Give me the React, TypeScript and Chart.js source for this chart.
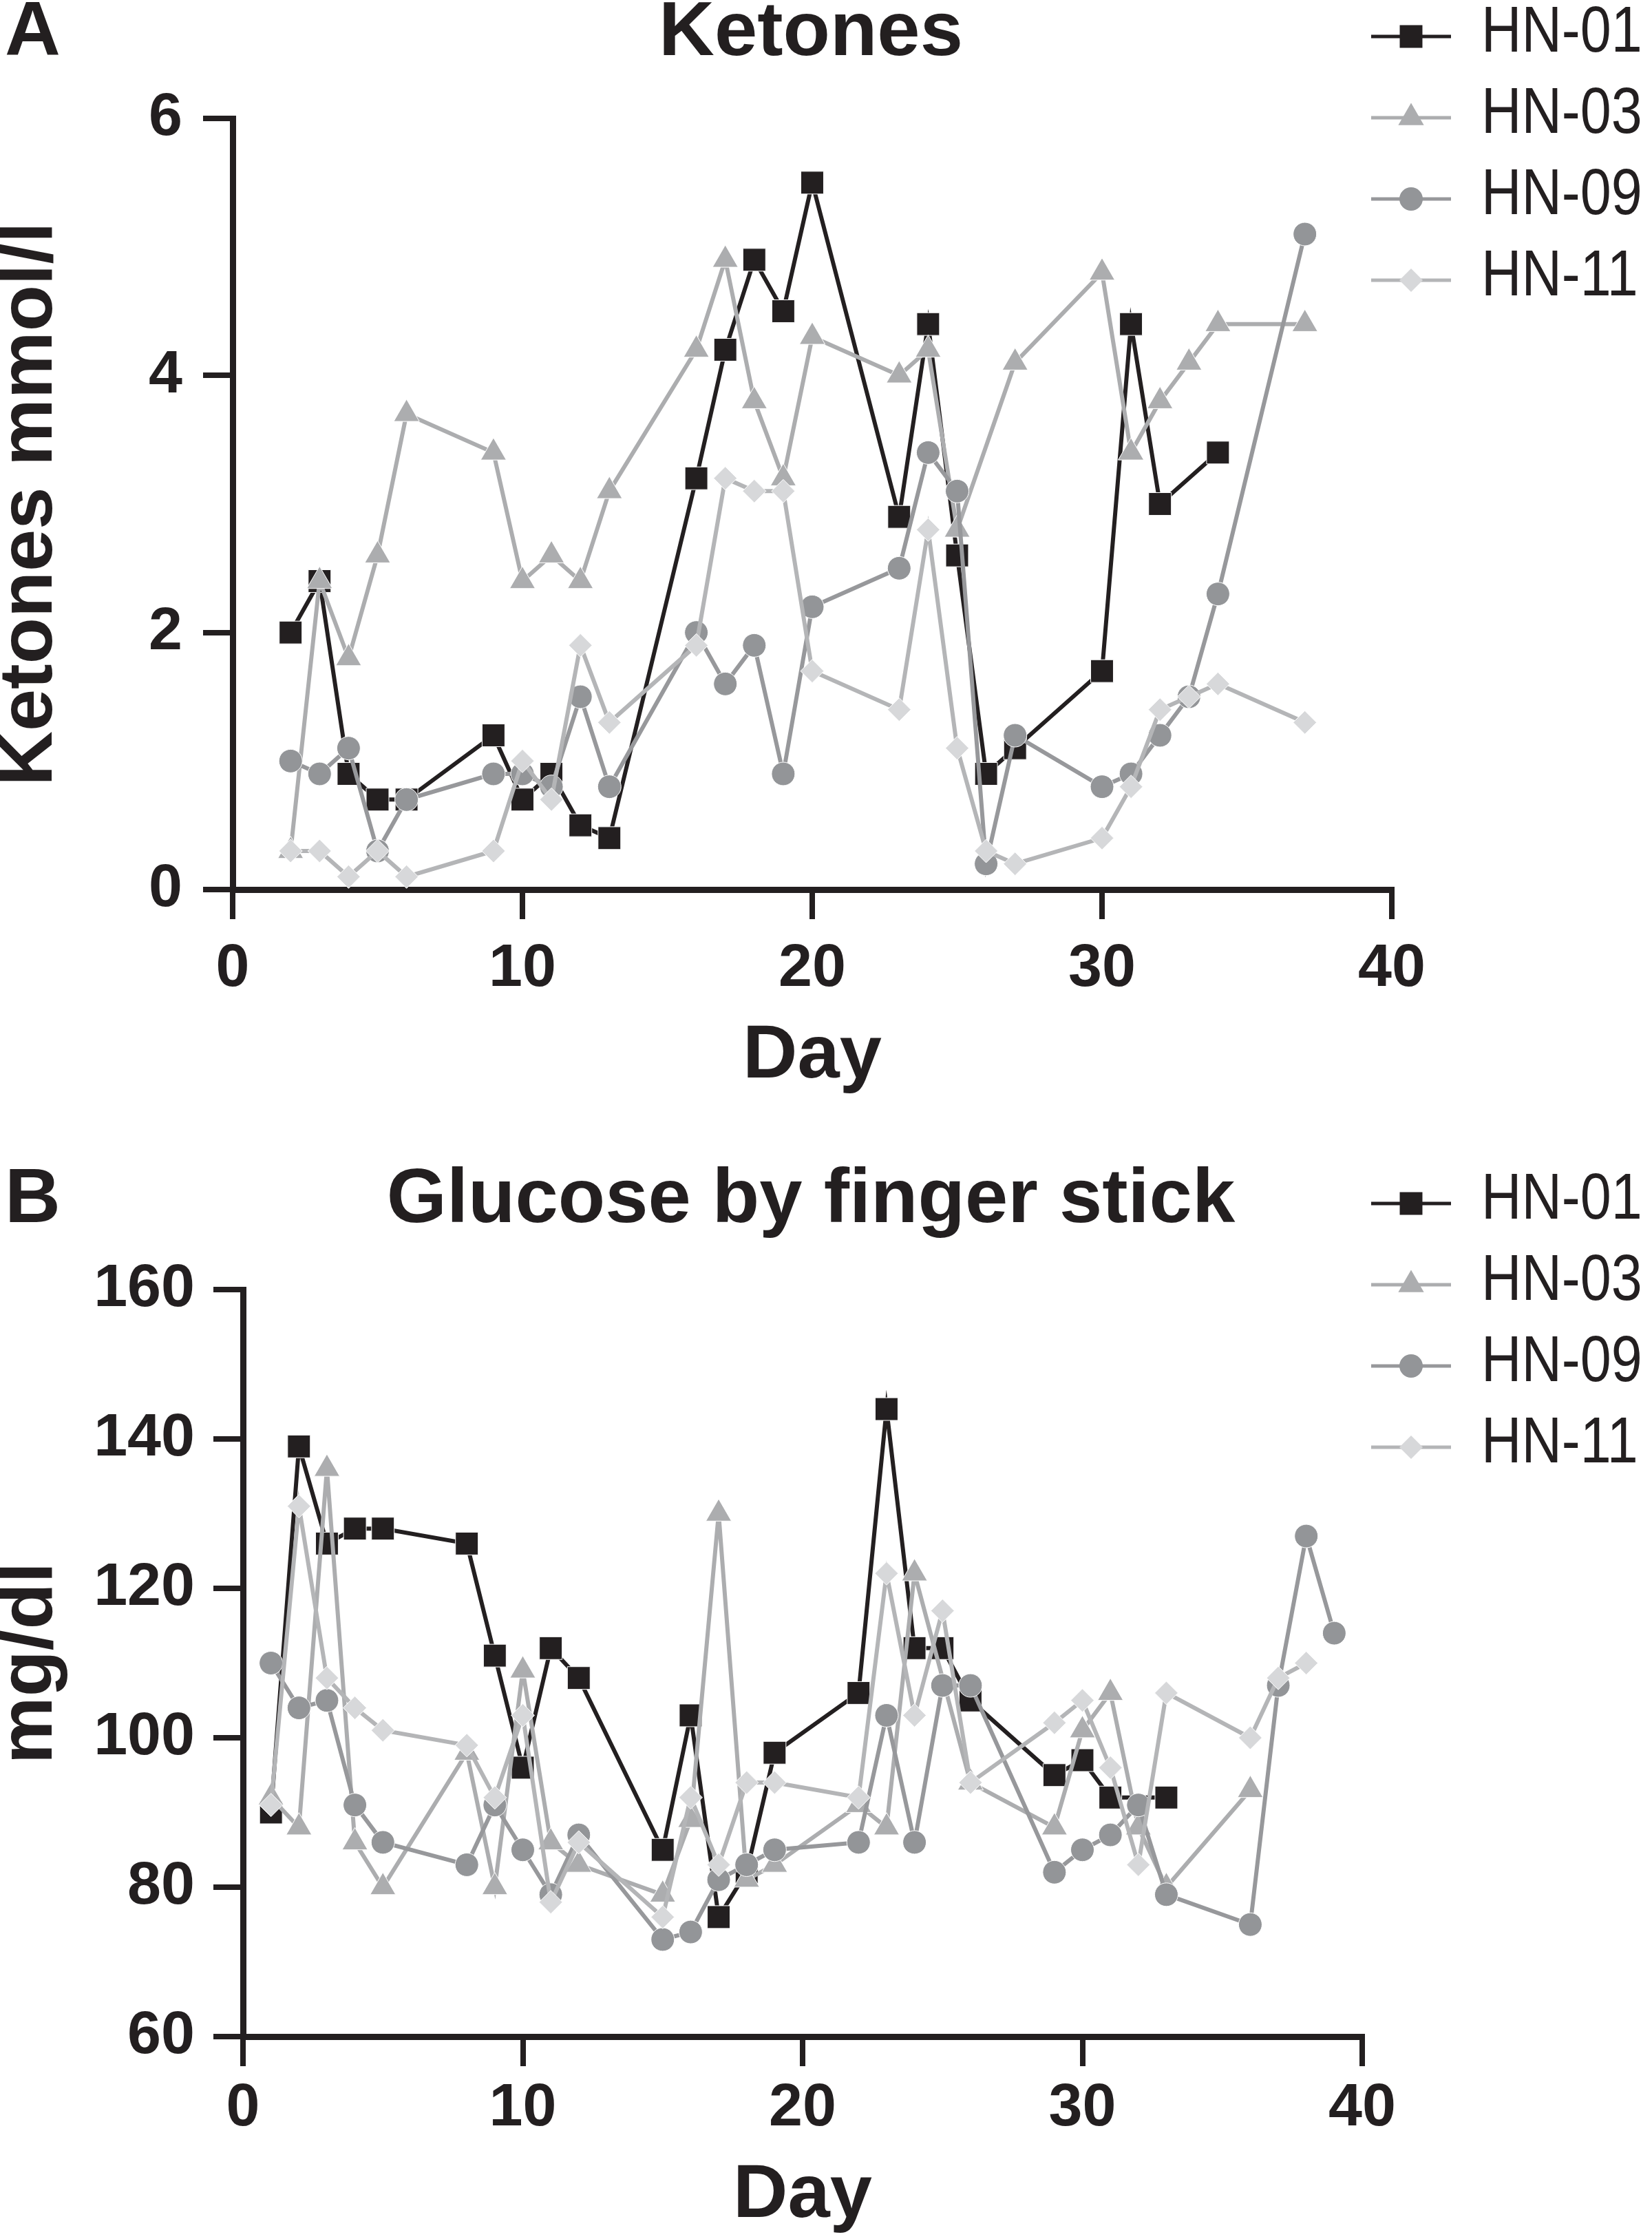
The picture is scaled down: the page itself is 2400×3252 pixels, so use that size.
import React, { useEffect, useRef } from "react";
import { Chart, registerables } from "chart.js";

Chart.register(...registerables);

// ---------- Data ----------
const seriesLabels = ["HN-01", "HN-03", "HN-09", "HN-11"];

// Panel A: Ketones (mmol/l)
const ketDaysHN01 = [2, 3, 4, 5, 6, 9, 10, 11, 12, 13, 16, 17, 18, 19, 20, 23, 24, 25, 26, 27, 30, 31, 32, 34];
const ketHN01 = [2.0, 2.4, 0.9, 0.7, 0.7, 1.2, 0.7, 0.9, 0.5, 0.4, 3.2, 4.2, 4.9, 4.5, 5.5, 2.9, 4.4, 2.6, 0.9, 1.1, 1.7, 4.4, 3.0, 3.4];
const ketDaysHN03 = [2, 3, 4, 5, 6, 9, 10, 11, 12, 13, 16, 17, 18, 19, 20, 23, 24, 25, 27, 30, 31, 32, 33, 34, 37];
const ketHN03 = [0.3, 2.4, 1.8, 2.6, 3.7, 3.4, 2.4, 2.6, 2.4, 3.1, 4.2, 4.9, 3.8, 3.2, 4.3, 4.0, 4.2, 2.8, 4.1, 4.8, 3.4, 3.8, 4.1, 4.4, 4.4];
const ketDaysHN09 = [2, 3, 4, 5, 6, 9, 10, 11, 12, 13, 16, 17, 18, 19, 20, 23, 24, 25, 26, 27, 30, 31, 32, 33, 34, 37];
const ketHN09 = [1.0, 0.9, 1.1, 0.3, 0.7, 0.9, 0.9, 0.8, 1.5, 0.8, 2.0, 1.6, 1.9, 0.9, 2.2, 2.5, 3.4, 3.1, 0.2, 1.2, 0.8, 0.9, 1.2, 1.5, 2.3, 5.1];
const ketDaysHN11 = [2, 3, 4, 5, 6, 9, 10, 11, 12, 13, 16, 17, 18, 19, 20, 23, 24, 25, 26, 27, 30, 31, 32, 33, 34, 37];
const ketHN11 = [0.3, 0.3, 0.1, 0.3, 0.1, 0.3, 1.0, 0.7, 1.9, 1.3, 1.9, 3.2, 3.1, 3.1, 1.7, 1.4, 2.8, 1.1, 0.3, 0.2, 0.4, 0.8, 1.4, 1.5, 1.6, 1.3];

// Panel B: Glucose by finger stick (mg/dl)
const gluDaysHN01 = [1, 2, 3, 4, 5, 8, 9, 10, 11, 12, 15, 16, 17, 18, 19, 22, 23, 24, 25, 26, 29, 30, 31, 33];
const gluHN01 = [90, 139, 126, 128, 128, 126, 111, 96, 112, 108, 85, 103, 76, 82, 98, 106, 144, 112, 112, 105, 95, 97, 92, 92];
const gluDaysHN03 = [1, 2, 3, 4, 5, 8, 9, 10, 11, 12, 15, 16, 17, 18, 19, 22, 23, 24, 26, 29, 30, 31, 32, 33, 36];
const gluHN03 = [92, 88, 136, 86, 80, 98, 80, 109, 86, 83, 79, 89, 130, 81, 83, 91, 88, 122, 94, 88, 101, 106, 88, 80, 93];
const gluDaysHN09 = [1, 2, 3, 4, 5, 8, 9, 10, 11, 12, 15, 16, 17, 18, 19, 22, 23, 24, 25, 26, 29, 30, 31, 32, 33, 36, 37, 38, 39];
const gluHN09 = [110, 104, 105, 91, 86, 83, 91, 85, 79, 87, 73, 74, 81, 83, 85, 86, 103, 86, 107, 107, 82, 85, 87, 91, 79, 75, 107, 127, 114];
const gluDaysHN11 = [1, 2, 3, 4, 5, 8, 9, 10, 11, 12, 15, 16, 17, 18, 19, 22, 23, 24, 25, 26, 29, 30, 31, 32, 33, 36, 37, 38];
const gluHN11 = [91, 131, 108, 104, 101, 99, 92, 103, 78, 86, 76, 92, 83, 94, 94, 92, 122, 103, 117, 94, 102, 105, 96, 83, 106, 100, 108, 110];

const xTicksDay = [0, 10, 20, 30, 40];
const yTicksKet = [0, 2, 4, 6];
const yTicksGlu = [60, 80, 100, 120, 140, 160];

// ---------- Styles ----------
const INK = "#231f20";
const FONT = '"Liberation Sans", Arial, Helvetica, sans-serif';

type SeriesStyle = { line: string; fill: string; shape: string; r: number; order: number };
const styles: SeriesStyle[] = [
  { line: "#231f20", fill: "#231f20", shape: "rect", r: 23.3, order: 4 },
  { line: "#acadaf", fill: "#acadaf", shape: "triangle", r: 21.5, order: 3 },
  { line: "#97989b", fill: "#939598", shape: "circle", r: 17, order: 2 },
  { line: "#b4b5b7", fill: "#d7d8da", shape: "rectRot", r: 17, order: 1 },
];

function makeDataset(i: number, days: number[], vals: number[]) {
  const s = styles[i];
  return {
    label: seriesLabels[i],
    data: days.map((d, k) => ({ x: d, y: vals[k] })),
    borderColor: s.line,
    backgroundColor: s.fill,
    borderWidth: 6,
    pointStyle: s.shape,
    pointRadius: s.r,
    pointHoverRadius: s.r,
    pointBackgroundColor: s.fill,
    pointBorderColor: "#ffffff",
    pointBorderWidth: 1,
    tension: 0,
    fill: false,
    clip: false as any,
    order: s.order,
  };
}

function drawMarker(ctx: CanvasRenderingContext2D, shape: string, x: number, y: number, r: number, fill: string) {
  ctx.beginPath();
  if (shape === "rect") {
    const h = Math.SQRT1_2 * r;
    ctx.rect(x - h, y - h, 2 * h, 2 * h);
  } else if (shape === "triangle") {
    let rad = 0;
    ctx.moveTo(x + Math.sin(rad) * r, y - Math.cos(rad) * r);
    rad += (2 * Math.PI) / 3;
    ctx.lineTo(x + Math.sin(rad) * r, y - Math.cos(rad) * r);
    rad += (2 * Math.PI) / 3;
    ctx.lineTo(x + Math.sin(rad) * r, y - Math.cos(rad) * r);
    ctx.closePath();
  } else if (shape === "circle") {
    ctx.arc(x, y, r, 0, Math.PI * 2);
  } else {
    ctx.moveTo(x - r, y);
    ctx.lineTo(x, y - r);
    ctx.lineTo(x + r, y);
    ctx.lineTo(x, y + r);
    ctx.closePath();
  }
  ctx.fillStyle = fill;
  ctx.fill();
}

function overlayPlugin(letter: string, title: string, titleBaseline: number, legendTop: number) {
  return {
    id: "overlay_" + letter,
    afterDraw(chart: any) {
      const ctx: CanvasRenderingContext2D = chart.ctx;
      ctx.save();
      ctx.fillStyle = INK;
      ctx.font = `bold 112px ${FONT}`;
      ctx.textBaseline = "alphabetic";
      ctx.textAlign = "left";
      ctx.fillText(letter, 7, titleBaseline);
      ctx.textAlign = "center";
      ctx.fillText(title, 1178, titleBaseline);
      styles.forEach((s, i) => {
        const y = legendTop + i * 118;
        ctx.strokeStyle = s.line;
        ctx.lineWidth = 5;
        ctx.beginPath();
        ctx.moveTo(1992, y);
        ctx.lineTo(2108, y);
        ctx.stroke();
        drawMarker(ctx, s.shape, 2050, y, s.r, s.fill);
        ctx.save();
        ctx.fillStyle = INK;
        ctx.font = `94px ${FONT}`;
        ctx.textAlign = "left";
        ctx.textBaseline = "middle";
        ctx.translate(2152, y - 4);
        ctx.scale(0.86, 1);
        ctx.fillText(seriesLabels[i], 0, 0);
        ctx.restore();
      });
      ctx.restore();
    },
  };
}

type AxisOpts = {
  yMin: number; yMax: number; yStep: number; yTitle: string;
  yWidth: number; yTickPad: number;
  xHeight: number; xTickPad: number; xTitlePad: number;
};

function makeScales(o: AxisOpts) {
  const tickFont = { family: FONT, size: 88, weight: "bold" as const };
  const titleFont = { family: FONT, size: 110, weight: "bold" as const, lineHeight: 0.82 };
  const grid = {
    drawOnChartArea: false,
    drawTicks: true,
    tickLength: 43,
    tickWidth: 8,
    tickColor: INK,
    lineWidth: 8,
    color: INK,
  };
  const border = { display: true, width: 9, color: INK };
  return {
    x: {
      type: "linear" as const,
      min: xTicksDay[0],
      max: xTicksDay[xTicksDay.length - 1],
      afterBuildTicks: (s: any) => { s.ticks = xTicksDay.map((v) => ({ value: v })); },
      ticks: { color: INK, font: tickFont, padding: o.xTickPad, maxRotation: 0, autoSkip: false },
      grid,
      border,
      title: { display: true, text: "Day", color: INK, font: titleFont, padding: { top: 0, bottom: o.xTitlePad } },
      afterFit: (s: any) => { s.height = o.xHeight; },
    },
    y: {
      type: "linear" as const,
      min: o.yMin,
      max: o.yMax,
      ticks: { color: INK, font: tickFont, padding: o.yTickPad, stepSize: o.yStep, autoSkip: false },
      grid,
      border,
      title: { display: true, text: o.yTitle, color: INK, font: titleFont, padding: { top: 0, bottom: 0 } },
      afterFit: (s: any) => { s.width = o.yWidth; },
    },
  };
}

function baseOptions(padding: any, scales: any) {
  return {
    responsive: false,
    maintainAspectRatio: false,
    animation: false as const,
    devicePixelRatio: 1,
    layout: { padding },
    plugins: { legend: { display: false }, tooltip: { enabled: false }, title: { display: false } },
    scales,
    events: [] as any[],
  };
}

export default function App() {
  const refA = useRef<HTMLCanvasElement>(null);
  const refB = useRef<HTMLCanvasElement>(null);

  useEffect(() => {
    document.body.style.margin = "0";
    const a = new Chart(refA.current as HTMLCanvasElement, {
      type: "line",
      data: {
        datasets: [
          makeDataset(0, ketDaysHN01, ketHN01),
          makeDataset(1, ketDaysHN03, ketHN03),
          makeDataset(2, ketDaysHN09, ketHN09),
          makeDataset(3, ketDaysHN11, ketHN11),
        ] as any,
      },
      options: baseOptions(
        { left: 0, right: 378, top: 172, bottom: 0 },
        makeScales({
          yMin: yTicksKet[0], yMax: yTicksKet[yTicksKet.length - 1], yStep: 2, yTitle: "Ketones mmol/l",
          yWidth: 338, yTickPad: 30, xHeight: 348, xTickPad: 20, xTitlePad: 60,
        })
      ) as any,
      plugins: [overlayPlugin("A", "Ketones", 80, 53)],
    });
    const b = new Chart(refB.current as HTMLCanvasElement, {
      type: "line",
      data: {
        datasets: [
          makeDataset(0, gluDaysHN01, gluHN01),
          makeDataset(1, gluDaysHN03, gluHN03),
          makeDataset(2, gluDaysHN09, gluHN09),
          makeDataset(3, gluDaysHN11, gluHN11),
        ] as any,
      },
      options: baseOptions(
        { left: 0, right: 421, top: 233, bottom: 0 },
        makeScales({
          yMin: yTicksGlu[0], yMax: yTicksGlu[yTicksGlu.length - 1], yStep: 20, yTitle: "mg/dl",
          yWidth: 353, yTickPad: 27, xHeight: 294, xTickPad: 9, xTitlePad: 17,
        })
      ) as any,
      plugins: [overlayPlugin("B", "Glucose by finger stick", 135, 108)],
    });
    return () => {
      a.destroy();
      b.destroy();
    };
  }, []);

  return (
    <div style={{ position: "relative", width: 2400, height: 3252, background: "#ffffff" }}>
      <canvas ref={refA} width={2400} height={1640} style={{ position: "absolute", left: 0, top: 0, width: 2400, height: 1640 }} />
      <canvas ref={refB} width={2400} height={1612} style={{ position: "absolute", left: 0, top: 1640, width: 2400, height: 1612 }} />
    </div>
  );
}
